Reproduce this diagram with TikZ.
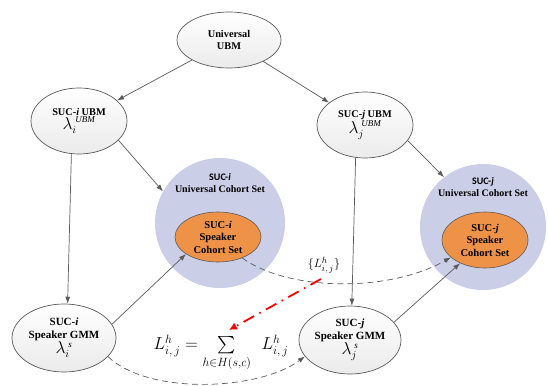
\documentclass[tikz,border=0pt]{standalone}
\usepackage{amsmath}
\usepackage{fontspec}
\setmainfont{Liberation Serif}
\newfontfamily\carlfont{Carlito}
\usetikzlibrary{shapes.geometric,arrows.meta}
\definecolor{edgegray}{HTML}{5A5A5A}
\definecolor{cohortblue}{HTML}{CACEE6}
\definecolor{cohortorange}{HTML}{EE9248}
\tikzset{
  ell/.style={ellipse, draw=edgegray, line width=0.7pt, top color=white, bottom color=black!8,
    inner sep=0pt, align=center, font=\fontsize{10.3}{12}\selectfont\bfseries},
  outercirc/.style={circle, fill=cohortblue, draw=none, inner sep=0pt},
  orangeell/.style={ellipse, fill=cohortorange, draw=edgegray, line width=0.6pt, inner sep=0pt,
    align=center, font=\fontsize{10.5}{12.5}\selectfont\bfseries},
  cohortlabel/.style={align=center, inner sep=0pt, font=\fontsize{10}{12}\selectfont\bfseries},
  arr/.style={draw=edgegray, line width=0.7pt, -{Latex[length=7pt,width=5pt]}},
  dasharr/.style={arr, dash pattern=on 6pt off 4pt},
  redarr/.style={draw=red, line width=1.8pt, dash pattern=on 12pt off 6pt on 1.5pt off 6pt,
    -{Latex[length=8pt,width=8pt]}},
}
\newcommand{\biglam}[2]{{\fontsize{16}{16}\selectfont$\lambda_{#1}^{\;\text{\normalfont\fontsize{9}{9}\selectfont\itshape #2}}$}}
\begin{document}
\begin{tikzpicture}[x=1pt,y=-1pt]
\useasboundingbox (0,0) rectangle (548,385);
% cohort sets
\node[outercirc, minimum size=130pt] (Ci) at (220,223) {};
\node[outercirc, minimum size=126pt] (Cj) at (483,227) {};
\node[cohortlabel] (Cil) at (220,183) {{\carlfont SUC-\textit{i}}\\Universal Cohort Set};
\node[cohortlabel] (Cjl) at (483,187) {{\carlfont SUC-\textit{j}}\\Universal Cohort Set};
\node[orangeell, minimum width=86pt, minimum height=50pt] (Oi) at (218,237) {SUC-\textit{i}\\Speaker\\Cohort Set};
\node[orangeell, minimum width=86pt, minimum height=56pt] (Oj) at (485,240) {SUC-\textit{j}\\Speaker\\Cohort Set};
% ellipses
\node[ell, minimum width=104pt, minimum height=56pt] (U) at (229,40) {Universal\\UBM};
\node[ell, minimum width=96pt, minimum height=66pt] (Ui) at (79,121)
  {SUC-\textit{i} UBM\\[0pt]\biglam{i}{UBM}};
\node[ell, minimum width=96pt, minimum height=66pt] (Uj) at (365,125)
  {SUC-\textit{j} UBM\\[0pt]\biglam{j}{UBM}};
\node[ell, minimum width=104pt, minimum height=68pt, font=\fontsize{11}{12.5}\selectfont\bfseries] (Gi) at (64,338)
  {SUC-\textit{i}\\Speaker GMM\\[0pt]\biglam{i}{s}};
\node[ell, minimum width=102pt, minimum height=68pt, font=\fontsize{11}{12.5}\selectfont\bfseries] (Gj) at (350,340)
  {SUC-\textit{j}\\Speaker GMM\\[0pt]\biglam{j}{s}};
% formula and label
\node[inner sep=0pt, font=\fontsize{18}{20}\selectfont] (F) at (221,353)
  {$L^h_{i,\,j} = \sum\limits_{h\in H(s,c)} \;\, L^h_{i,\,j}$};
\node[inner sep=0pt, font=\fontsize{13}{15}\selectfont] (Ls) at (324,265) {$\{L^h_{i,\,j}\}$};
\coordinate (rs) at (321,279);
\coordinate (re) at (229,330);
% solid connectors
\draw[arr] (U) -- (Ui);
\draw[arr] (U) -- (Uj);
\draw[arr] (Ui.-26) -- (Ci.151);
\draw[arr] (Ui.-103) -- (Gi.84);
\draw[arr] (Uj.-20) -- (Cj.128);
\draw[arr] (Uj.-106) -- (Gj.87);
\draw[arr] (Gi.16) -- (Oi.-152);
\draw[arr] (Gj.22) -- (Oj.-137);
% dashed connectors
\draw[dasharr] (Oi.-41) .. controls (290,292) and (390,292) .. (Oj.-153);
\draw[dasharr] (Gi.-23) .. controls (150,396) and (260,390) .. (Gj.-160);
% red dash-dot
\draw[redarr] (rs) -- (re);
\end{tikzpicture}
\end{document}
